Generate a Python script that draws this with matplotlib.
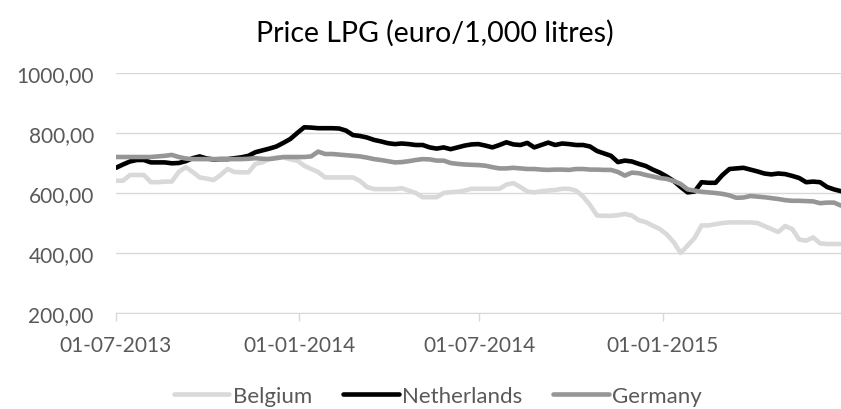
import numpy as np
import pandas as pd
import matplotlib
matplotlib.use("Agg")
import matplotlib.pyplot as plt
import matplotlib.dates as mdates

# weekly prices, euro per 1,000 litres
dates = pd.date_range("2013-07-01", periods=105, freq="7D")

belgium = [
    641, 641, 660, 660, 660, 636, 636, 638, 638, 670,
    686, 670, 652, 648, 643, 660, 680, 670, 669, 669,
    697, 702, 715, 719, 719, 712, 708, 691, 680, 670,
    652, 652, 652, 652, 652, 640, 620, 613, 613, 613,
    613, 616, 608, 600, 586, 586, 586, 600, 603, 604,
    608, 614, 614, 614, 614, 614, 628, 633, 620, 605,
    602, 606, 608, 610, 614, 614, 608, 588, 560, 525,
    524, 524, 526, 530, 525, 509, 503, 491, 480, 462,
    436, 400, 425, 450, 492, 492, 496, 500, 502, 502,
    502, 502, 500, 490, 480, 470, 490, 480, 445, 441,
    452, 432, 430, 430, 430,
]
netherlands = [
    684, 695, 705, 710, 710, 702, 702, 702, 699, 700,
    706, 716, 722, 715, 712, 713, 713, 716, 719, 724,
    736, 742, 748, 755, 767, 780, 800, 819, 818, 816,
    816, 816, 815, 808, 793, 790, 785, 777, 772, 766,
    763, 765, 763, 760, 760, 752, 748, 752, 746, 752,
    758, 762, 763, 758, 752, 760, 769, 762, 760, 767,
    752, 760, 768, 760, 765, 763, 760, 760, 755, 740,
    732, 724, 703, 708, 705, 697, 690, 678, 668, 655,
    640, 620, 602, 605, 636, 634, 634, 660, 680, 682,
    684, 678, 672, 665, 662, 665, 663, 657, 650, 636,
    638, 636, 620, 612, 606,
]
germany = [
    720, 720, 720, 720, 720, 720, 722, 724, 727, 720,
    715, 713, 713, 713, 713, 713, 713, 713, 713, 714,
    716, 714, 713, 716, 720, 720, 720, 720, 722, 738,
    730, 730, 728, 726, 724, 722, 718, 713, 710, 706,
    702, 703, 706, 710, 713, 712, 708, 708, 700, 697,
    695, 694, 693, 691, 686, 682, 682, 684, 682, 680,
    680, 678, 677, 678, 678, 677, 680, 680, 678, 678,
    677, 677, 670, 658, 668, 666, 660, 655, 650, 647,
    640, 630, 612, 608, 604, 602, 600, 597, 592, 584,
    585, 590, 588, 586, 583, 580, 576, 574, 574, 573,
    572, 566, 568, 568, 558,
]

series = [("Belgium", belgium, "#d9d9d9"),
          ("Netherlands", netherlands, "#000000"),
          ("Germany", germany, "#969696")]

plt.rcParams["font.family"] = ["Lato", "DejaVu Sans"]

fig = plt.figure(figsize=(8.41, 4.10), dpi=100)
ax = fig.add_axes([116 / 841, 1 - 314 / 410, 725 / 841, 240 / 410])

for name, vals, col in series:
    ax.plot(dates, vals, color=col, lw=3.3, label=name, solid_capstyle="round")

ax.set_ylim(200, 1000)
ax.set_yticks([200, 400, 600, 800, 1000])
ax.set_yticklabels([f"{v},00" for v in [200, 400, 600, 800, 1000]])
ax.set_xlim(dates[0], dates[-1])
xt = pd.to_datetime(["2013-07-01", "2014-01-01", "2014-07-01", "2015-01-01"])
ax.set_xticks(xt)
ax.xaxis.set_major_formatter(mdates.DateFormatter("%d-%m-%Y"))

ax.grid(axis="y", color="#d9d9d9", lw=1)
ax.set_axisbelow(True)
for s in ["top", "right", "left"]:
    ax.spines[s].set_visible(False)
ax.spines["bottom"].set_color("#d9d9d9")
ax.tick_params(axis="y", length=0, pad=16, labelsize=15, labelcolor="#595959")
ax.tick_params(axis="x", length=6, color="#d9d9d9", width=1, pad=10,
               labelsize=15, labelcolor="#595959")

fig.suptitle("Price LPG (euro/1,000 litres)", x=435 / 841, y=1 - 33 / 410,
             va="center", fontsize=20.5, color="#000000")
fig.legend(loc="center", bbox_to_anchor=(438 / 841, 1 - 397 / 410), ncol=3,
           frameon=False, fontsize=16, handlelength=2.5, handletextpad=0.15,
           columnspacing=1.4, labelcolor="#595959")

fig.savefig("out.png", dpi=100)
